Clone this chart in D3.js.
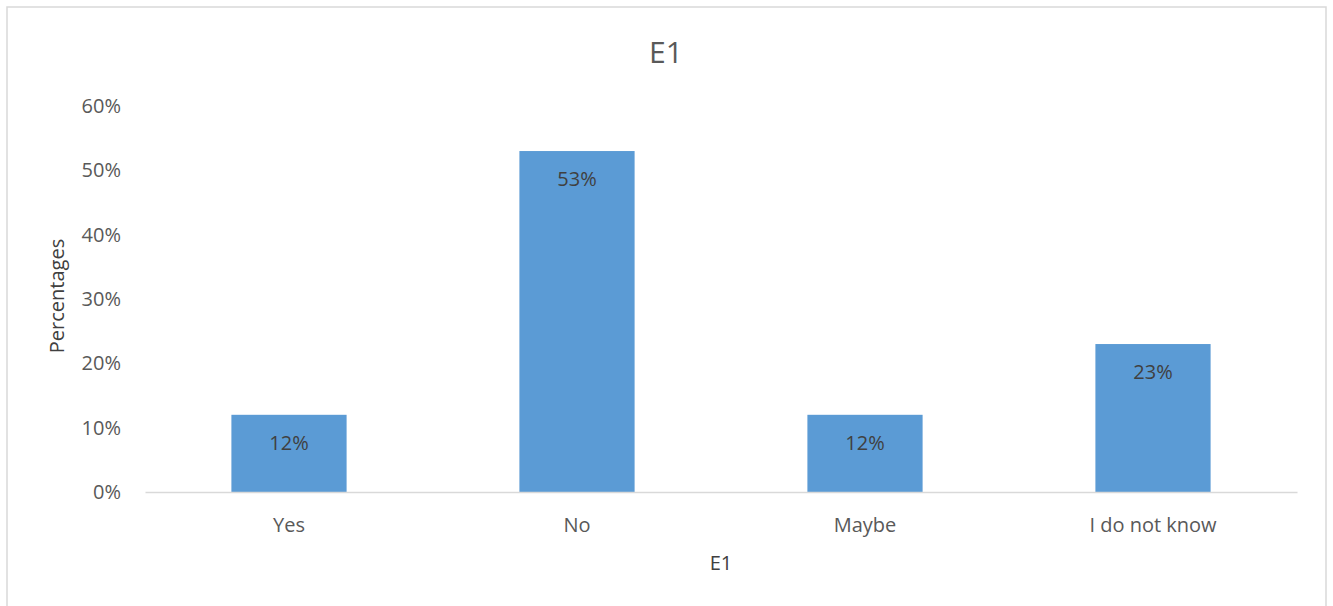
<!DOCTYPE html>
<html>
<head>
<meta charset="utf-8">
<script src="https://cdn.jsdelivr.net/npm/d3@7"></script>
<style>
  body { margin: 0; background: #fff; }
  svg { display: block; font-family: "Open Sans", "Noto Sans", sans-serif; }
</style>
</head>
<body>
<script>
const categories = ["Yes", "No", "Maybe", "I do not know"];
const values = [0.12, 0.53, 0.12, 0.23];
const yTicks = [0, 0.1, 0.2, 0.3, 0.4, 0.5, 0.6];
const chartTitle = "E1";
const xTitle = "E1";
const yTitle = "Percentages";

const w = 1333;
const h = 606;
const plotLeft = 145, plotRight = 1297, plotTop = 106, plotBottom = 492;

const svg = d3.select("body").append("svg")
  .attr("width", w)
  .attr("height", h);

// chart border
svg.append("rect")
  .attr("x", 7).attr("y", 7)
  .attr("width", 1319).attr("height", 610)
  .attr("fill", "#fff")
  .attr("stroke", "#d9d9d9")
  .attr("stroke-width", 1.5);

// Scales
const xScale = d3.scaleBand()
  .domain(categories)
  .range([plotLeft, plotRight])
  .paddingInner(0.6)
  .paddingOuter(0.3);

const yScale = d3.scaleLinear()
  .domain([0, 0.6])
  .range([plotBottom, plotTop]);

// y axis labels
const yAxis = d3.axisLeft(yScale)
  .tickValues(yTicks)
  .tickFormat(d3.format(".0%"))
  .tickSize(0)
  .tickPadding(24);

svg.append("g")
  .attr("transform", `translate(${plotLeft}, 0)`)
  .call(yAxis)
  .call(g => g.select(".domain").remove())
  .call(g => g.selectAll("text")
    .attr("fill", "#595959")
    .style("font-size", "20px")
    .style("font-family", "'Open Sans', sans-serif"));

// Bars
svg.selectAll(".bar")
  .data(values)
  .enter()
  .append("rect")
  .attr("class", "bar")
  .attr("x", (d, i) => xScale(categories[i]))
  .attr("y", d => yScale(d))
  .attr("width", xScale.bandwidth())
  .attr("height", d => plotBottom - yScale(d))
  .attr("fill", "#5b9bd5");

// x axis
const xAxis = d3.axisBottom(xScale).tickSize(0).tickPadding(20);
svg.append("g")
  .attr("transform", `translate(0, ${plotBottom})`)
  .call(xAxis)
  .call(g => g.select(".domain").attr("stroke", "#d9d9d9").attr("stroke-width", 1.5))
  .call(g => g.selectAll("text")
    .attr("dy", null)
    .attr("y", 40)
    .attr("fill", "#595959")
    .style("font-size", "20px")
    .style("font-family", "'Open Sans', sans-serif"));

// value labels
svg.selectAll(".val")
  .data(values)
  .enter()
  .append("text")
  .attr("class", "val")
  .attr("x", (d, i) => xScale(categories[i]) + xScale.bandwidth() / 2)
  .attr("y", d => yScale(d) + 35)
  .attr("text-anchor", "middle")
  .attr("fill", "#404040")
  .style("font-size", "20px")
  .text(d => d3.format(".0%")(d));

// titles
svg.append("text")
  .attr("x", 666).attr("y", 63)
  .attr("text-anchor", "middle")
  .attr("fill", "#595959")
  .style("font-size", "30px")
  .text(chartTitle);

svg.append("text")
  .attr("x", 721).attr("y", 570)
  .attr("text-anchor", "middle")
  .attr("fill", "#404040")
  .style("font-size", "20px")
  .text(xTitle);

svg.append("text")
  .attr("transform", "translate(64, 296) rotate(-90)")
  .attr("text-anchor", "middle")
  .attr("fill", "#404040")
  .style("font-size", "20px")
  .text(yTitle);
</script>
</body>
</html>
